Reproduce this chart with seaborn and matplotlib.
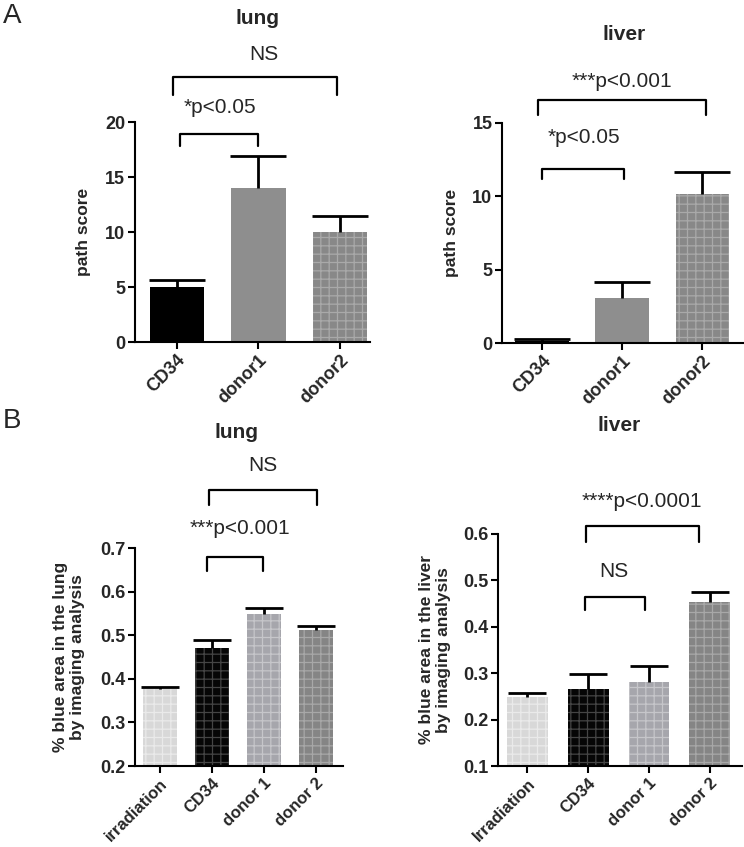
import numpy as np
import pandas as pd
import matplotlib
matplotlib.use("Agg")
import matplotlib.pyplot as plt
import seaborn as sns

sns.set_theme(style="ticks")
plt.rcParams['font.family'] = ['Liberation Sans', 'DejaVu Sans']
plt.rcParams['hatch.linewidth'] = 0.9

# A: path score (mean + sem)
a_groups = ["CD34", "donor1", "donor2"]
a_lung_mean = [5.0, 14.0, 10.0]
a_lung_sem = [0.64, 2.9, 1.5]
a_liver_mean = [0.12, 3.07, 10.15]
a_liver_sem = [0.18, 1.08, 1.5]

# B: % blue area (mean + sem)
b_lung_groups = ["irradiation", "CD34", "donor 1", "donor 2"]
b_liver_groups = ["Irradiation", "CD34", "donor 1", "donor 2"]
b_lung_mean = [0.377, 0.471, 0.549, 0.511]
b_lung_sem = [0.005, 0.018, 0.014, 0.011]
b_liver_mean = [0.249, 0.267, 0.282, 0.454]
b_liver_sem = [0.009, 0.031, 0.033, 0.021]

# colours (fill, grid texture)
a_fill = ["#000000", "#8e8e8e", "#888888"]
a_grid = [None, None, "#a9a9a9"]
b_fill = ["#d8d8d8", "#060606", "#a6a6ac", "#858585"]
b_grid = ["#eaeaea", "#454545", "#c6c6ca", "#a8a8a8"]

# significance brackets: (x start, x end, top, leg end), labels: (x, y, text)
a_lung_br = [(0.04, 1.0, 18.9, 17.8), (-0.05, 1.96, 24.1, 22.5)]
a_lung_txt = [(0.53, 21.3, "*p<0.05"), (1.06, 26.1, "NS")]
a_liver_br = [(0.0, 1.02, 11.86, 11.2), (-0.05, 2.05, 16.56, 15.5)]
a_liver_txt = [(0.52, 14.0, "*p<0.05"), (1.0, 17.8, "***p<0.001")]
b_lung_br = [(0.9, 1.98, 0.679, 0.647), (0.94, 3.02, 0.832, 0.798)]
b_lung_txt = [(1.54, 0.744, "***p<0.001"), (1.98, 0.89, "NS")]
b_liver_br = [(0.94, 1.94, 0.465, 0.436), (0.97, 2.82, 0.618, 0.583)]
b_liver_txt = [(1.43, 0.519, "NS"), (1.88, 0.67, "****p<0.0001")]

fig = plt.figure(figsize=(7.44, 8.47), dpi=100)


def panel(rect, groups, means, sems, fill, grid, ylim, yticks, xlim, ylabel,
          ylab_x, title, title_xy, brackets, labels, capsize, xsize):
    ax = fig.add_axes(rect)
    df = pd.DataFrame({"group": groups, "value": means})
    sns.barplot(data=df, x="group", y="value", hue="group", palette=fill,
                legend=False, width=0.67, saturation=1, ax=ax)
    for p, g in zip(ax.patches, grid):
        p.set_linewidth(0)
        if g:
            p.set_hatch("++")
            p.set_edgecolor(g)
    eb = ax.errorbar(np.arange(len(groups)), means,
                     yerr=[np.zeros(len(sems)), sems], fmt="none",
                     ecolor="black", elinewidth=2, capsize=capsize, capthick=2)
    # only the upper cap is shown
    eb[1][0].set_visible(False)
    ax.set_ylim(*ylim)
    ax.set_xlim(*xlim)
    ax.set_yticks(yticks)
    ax.set_xlabel("")
    ax.set_ylabel("")
    sns.despine(ax=ax)
    for s in ["left", "bottom"]:
        ax.spines[s].set_linewidth(1.5)
        ax.spines[s].set_color("black")
    ax.tick_params(width=1.5, length=5, labelsize=13, color="black", pad=2)
    ax.set_xticks(range(len(groups)))
    ax.set_xticklabels(groups, rotation=45, ha="right", rotation_mode="anchor",
                       fontsize=xsize)
    for lbl in ax.get_xticklabels() + ax.get_yticklabels():
        lbl.set_fontweight("bold")
    ax.text(ylab_x, 0.5, ylabel, transform=ax.transAxes, rotation=90,
            ha="center", va="center", fontsize=12.5, fontweight="bold")
    ax.text(title_xy[0], title_xy[1], title, transform=ax.transAxes,
            ha="center", va="center", fontsize=15, fontweight="bold")
    for x0, x1, top, leg in brackets:
        ax.plot([x0, x0, x1, x1], [leg, top, top, leg], color="black",
                lw=1.6, clip_on=False)
    for x, y, t in labels:
        ax.text(x, y, t, ha="center", va="center", fontsize=15,
                clip_on=False)
    return ax


panel([0.1815, 0.5962, 0.316, 0.2597], a_groups, a_lung_mean, a_lung_sem,
      a_fill, a_grid, (0, 20), [0, 5, 10, 15, 20], (-0.515, 2.37),
      "path score", -0.221, "lung", (0.523, 1.473), a_lung_br, a_lung_txt,
      20, 13)

panel([0.675, 0.595, 0.325, 0.26], a_groups, a_liver_mean, a_liver_sem,
      a_fill, a_grid, (0, 15), [0, 5, 10, 15], (-0.5, 2.52),
      "path score", -0.211, "liver", (0.504, 1.40), a_liver_br, a_liver_txt,
      20, 13)

panel([0.1815, 0.0956, 0.2796, 0.2574], b_lung_groups, b_lung_mean, b_lung_sem,
      b_fill, b_grid, (0.2, 0.7), [0.2, 0.3, 0.4, 0.5, 0.6, 0.7], (-0.48, 3.52),
      "% blue area in the lung\nby imaging analysis", -0.317, "lung",
      (0.49, 1.532), b_lung_br, b_lung_txt, 14, 12)

panel([0.669, 0.0956, 0.328, 0.274], b_liver_groups, b_liver_mean, b_liver_sem,
      b_fill, b_grid, (0.1, 0.6), [0.1, 0.2, 0.3, 0.4, 0.5, 0.6], (-0.49, 3.53),
      "% blue area in the liver\nby imaging analysis", -0.258, "liver",
      (0.496, 1.466), b_liver_br, b_liver_txt, 14, 12)

fig.text(0.004, 0.981, "A", fontsize=20, va="center", ha="left")
fig.text(0.004, 0.503, "B", fontsize=20, va="center", ha="left")

fig.savefig("out.png", dpi=100)
